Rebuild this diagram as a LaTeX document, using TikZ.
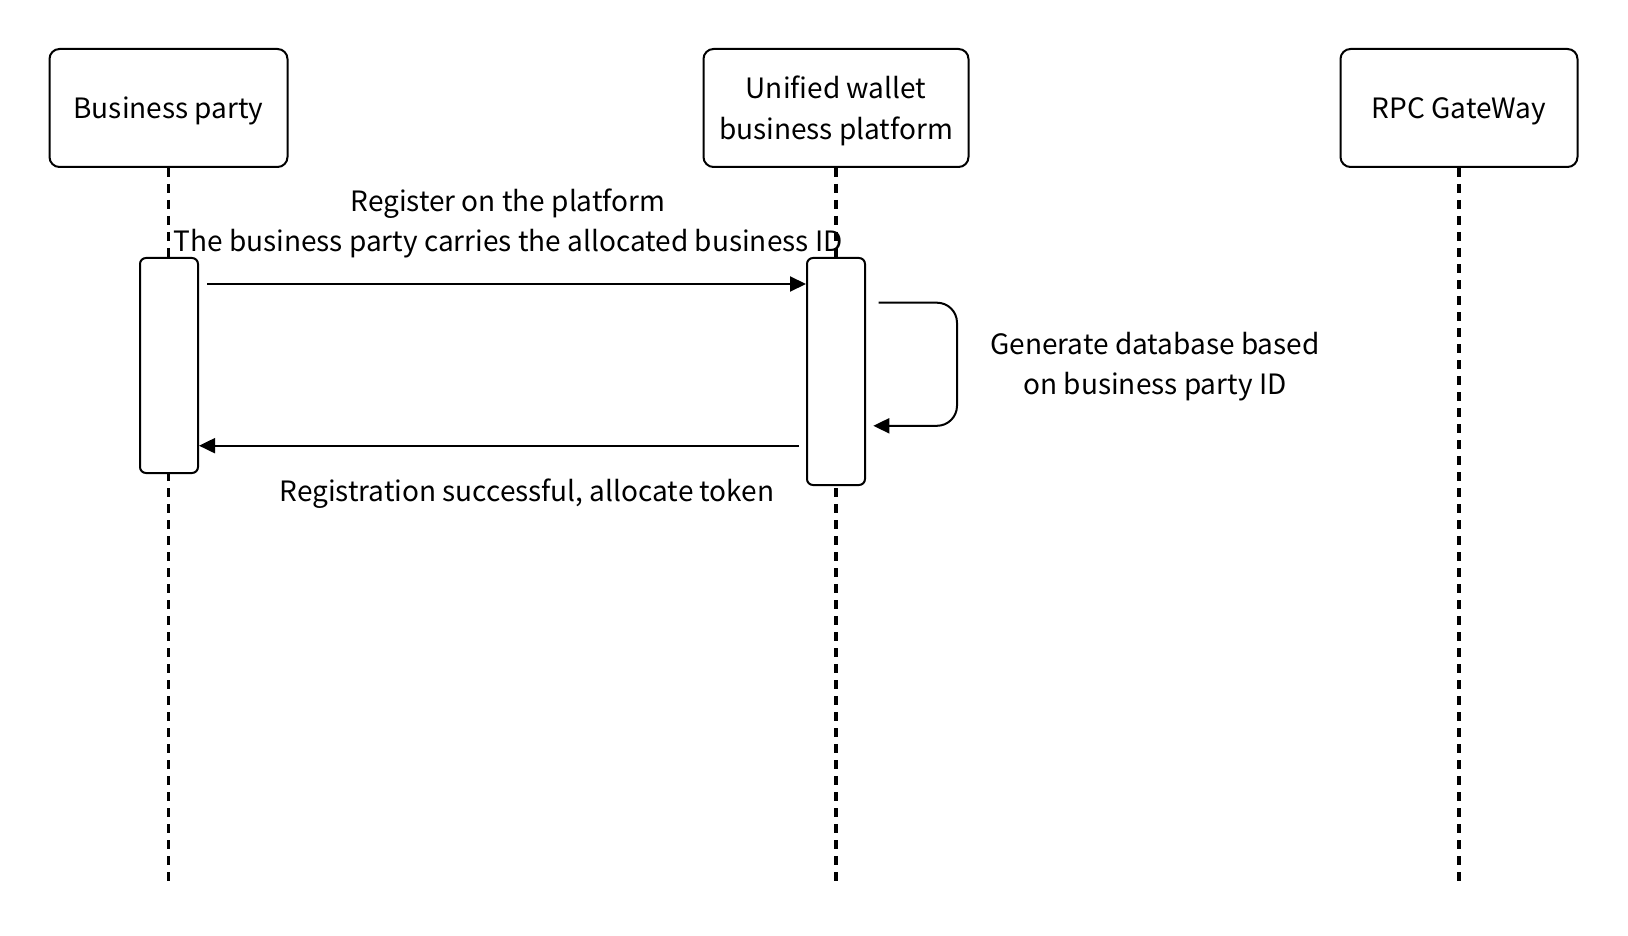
\documentclass[tikz,border=0pt]{standalone}
\usepackage{fontspec}
\setmainfont{Noto Sans CJK SC}
\usetikzlibrary{arrows.meta}
\begin{document}
\begin{tikzpicture}[x=1pt, y=-1pt,
  actor/.style={draw, line width=2pt, rounded corners=10pt, align=center, minimum height=118pt, inner sep=0pt, text depth=-8pt},
  act box/.style={draw, fill=white, line width=2pt, rounded corners=6pt, minimum width=58pt, inner sep=0pt},
  lifeline/.style={line width=3.5pt, dash pattern=on 9pt off 7pt},
  msg/.style={line width=2pt, -{Triangle[length=16pt,width=15pt]}},
  lbl/.style={align=center, inner sep=0pt},
  font=\fontsize{28pt}{40.7pt}\selectfont]
  \useasboundingbox (0,0) rectangle (1628,936);

  \node[actor, minimum width=238pt] (bp) at (168.5,108) {Business party};
  \node[actor, minimum width=265pt] (uw) at (836,108) {Unified wallet\\business platform};
  \node[actor, minimum width=237pt] (rpc) at (1459,108) {RPC GateWay};

  \coordinate (bpend) at (bp.south |- 0,885);
  \coordinate (uwend) at (uw.south |- 0,885);
  \coordinate (rpcend) at (rpc.south |- 0,885);
  \draw[lifeline] (bp.south) -- (bpend);
  \draw[lifeline] (uw.south) -- (uwend);
  \draw[lifeline] (rpc.south) -- (rpcend);

  \node[lbl] (reg) at (508,223.5) {Register on the platform\\The business party carries the allocated business ID};

  \node[act box, minimum height=215pt] (bpact) at (169,365.5) {};
  \node[act box, minimum height=227pt] (uwact) at (836,371.5) {};

  \draw[msg] ([xshift=8pt,yshift=-27pt]bpact.north east) -- ([yshift=-27pt]uwact.north west);
  \draw[msg, rounded corners=20pt] ([xshift=12.5pt,yshift=-45.7pt]uwact.north east)
    -- ([xshift=91pt,yshift=-45.7pt]uwact.north east)
    -- ([xshift=91pt,yshift=-168.8pt]uwact.north east)
    -- ([xshift=7.3pt,yshift=-168.8pt]uwact.north east);
  \draw[msg] ([xshift=-7pt,yshift=-188.7pt]uwact.north west) -- ([yshift=-188.7pt]bpact.north east);

  \node[lbl] (gen) at (1155,366.5) {Generate database based\\on business party ID};
  \node[lbl] (tok) at (527,494) {Registration successful, allocate token};
\end{tikzpicture}
\end{document}
